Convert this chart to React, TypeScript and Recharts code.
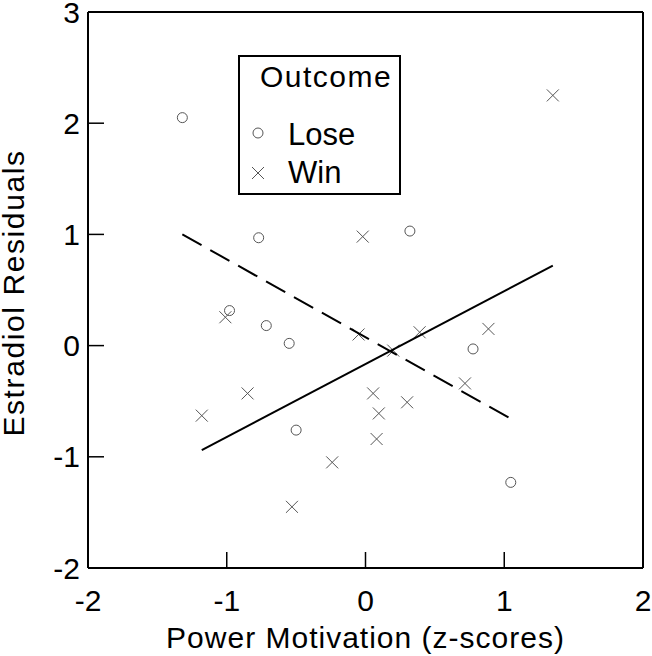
import React from "react";
import { ScatterChart, Scatter, XAxis, YAxis, Legend } from "recharts";

const loseX = [-1.32, -0.77, 0.32, -0.98, -0.715, -0.55, -0.5, 0.775, 1.047];
const loseY = [2.05, 0.97, 1.03, 0.315, 0.18, 0.02, -0.76, -0.03, -1.23];

const winX = [1.35, -0.02, -1.01, -0.05, 0.39, 0.2, -0.85, -1.18, 0.055, 0.096, 0.3, 0.08, -0.24, -0.53, 0.886, 0.717];
const winY = [2.25, 0.98, 0.255, 0.1, 0.12, -0.045, -0.43, -0.63, -0.43, -0.61, -0.51, -0.84, -1.05, -1.45, 0.15, -0.34];

// fitted lines (endpoints at each group's x range)
const winFitX = [-1.18, 1.35];
const winFitY = [-0.94, 0.72];
const loseFitX = [-1.32, 1.05];
const loseFitY = [1.0, -0.66];

const xTicks = [-2, -1, 0, 1, 2];
const yTicks = [-2, -1, 0, 1, 2, 3];

const zip = (xs: number[], ys: number[]) => xs.map((x, i) => ({ x, y: ys[i] }));

const loseData = zip(loseX, loseY);
const winData = zip(winX, winY);
const winFit = zip(winFitX, winFitY);
const loseFit = zip(loseFitX, loseFitY);

const FONT = "'Liberation Sans', Arial, Helvetica, sans-serif";
const MARK = "#555";
const TICK_LEN = 16;

const Circle = (p: any) => <circle cx={p.cx} cy={p.cy} r={5} fill="none" stroke={MARK} strokeWidth={1} />;
const Cross = (p: any) => (
  <g stroke={MARK} strokeWidth={1}>
    <line x1={p.cx - 6} y1={p.cy - 6} x2={p.cx + 6} y2={p.cy + 6} />
    <line x1={p.cx - 6} y1={p.cy + 6} x2={p.cx + 6} y2={p.cy - 6} />
  </g>
);
const Nothing = () => <g />;

// inward tick marks + labels (recharts only draws outward ticks)
const BottomTick = (p: any) => (
  <g>
    <line x1={p.x} x2={p.x} y1={p.y - 22} y2={p.y - 22 - TICK_LEN} stroke="#000" strokeWidth={1.5} />
    <text x={p.x} y={p.y} dy="0.71em" textAnchor="middle" fontSize={30} fontFamily={FONT} fill="#000">
      {p.payload.value}
    </text>
  </g>
);
const LeftTick = (p: any) => (
  <g>
    <line x1={p.x + 8} x2={p.x + 8 + TICK_LEN} y1={p.y} y2={p.y} stroke="#000" strokeWidth={1.5} />
    <text x={p.x} y={p.y} dy="0.355em" textAnchor="end" fontSize={30} fontFamily={FONT} fill="#000">
      {p.payload.value}
    </text>
  </g>
);
const TopTick = (p: any) => (
  <line x1={p.x} x2={p.x} y1={p.y} y2={p.y + TICK_LEN} stroke="#000" strokeWidth={1.5} />
);
const RightTick = (p: any) => (
  <line x1={p.x} x2={p.x - TICK_LEN} y1={p.y} y2={p.y} stroke="#000" strokeWidth={1.5} />
);

const LegendBox = () => (
  <svg width={163} height={140} style={{ display: "block" }}>
    <rect x={1} y={1} width={161} height={138} fill="#fff" stroke="#000" strokeWidth={2} />
    <text x={22} y={32} fontSize={30} fontFamily={FONT} fill="#000" letterSpacing="1.5px">Outcome</text>
    <circle cx={20} cy={78} r={5} fill="none" stroke={MARK} strokeWidth={1} />
    <text x={50} y={90} fontSize={31} fontFamily={FONT} fill="#000">Lose</text>
    <g stroke={MARK} strokeWidth={1}>
      <line x1={14} y1={112} x2={26} y2={124} />
      <line x1={14} y1={124} x2={26} y2={112} />
    </g>
    <text x={50} y={128} fontSize={31} fontFamily={FONT} fill="#000">Win</text>
  </svg>
);

const YTitle = (props: any) => {
  const vb = props.viewBox;
  const bx = 24;
  const cy = vb.y + vb.height / 2 + 3;
  return (
    <text
      x={bx}
      y={cy}
      transform={`rotate(-90 ${bx} ${cy})`}
      textAnchor="middle"
      fontSize={30}
      fontFamily={FONT}
      letterSpacing="1.6px"
      fill="#000"
    >
      Estradiol Residuals
    </text>
  );
};

const axisStyle = { stroke: "#000", strokeWidth: 2 };

export default function App() {
  return (
    <div style={{ position: "absolute", left: 0, top: 0, background: "#fff" }}>
      <ScatterChart width={652} height={656} margin={{ top: 11, right: 8, bottom: 28, left: 28 }}>
        <XAxis
          type="number"
          dataKey="x"
          domain={[-2, 2]}
          ticks={xTicks}
          height={60}
          axisLine={axisStyle}
          tickLine={false}
          tickSize={0}
          tickMargin={22}
          tick={<BottomTick />}
          label={{
            value: "Power Motivation (z-scores)",
            position: "bottom",
            offset: -1,
            style: { fontSize: 30, fontFamily: FONT, fill: "#000", letterSpacing: "1px" },
          }}
        />
        <YAxis
          type="number"
          dataKey="y"
          domain={[-2, 3]}
          ticks={yTicks}
          width={60}
          axisLine={axisStyle}
          tickLine={false}
          tickSize={0}
          tickMargin={8}
          tick={<LeftTick />}
          label={<YTitle />}
        />
        <XAxis
          xAxisId="top"
          orientation="top"
          type="number"
          domain={[-2, 2]}
          ticks={xTicks}
          height={1}
          axisLine={axisStyle}
          tickLine={false}
          tickSize={0}
          tickMargin={0}
          tick={<TopTick />}
        />
        <YAxis
          yAxisId="right"
          orientation="right"
          type="number"
          domain={[-2, 3]}
          ticks={yTicks}
          width={1}
          axisLine={axisStyle}
          tickLine={false}
          tickSize={0}
          tickMargin={0}
          tick={<RightTick />}
        />
        <Legend
          layout="horizontal"
          verticalAlign="middle"
          align="center"
          wrapperStyle={{ left: 238, top: 55, width: 163, height: 140 }}
          content={() => <LegendBox />}
        />
        <Scatter name="Lose" data={loseData} shape={Circle} isAnimationActive={false} />
        <Scatter name="Win" data={winData} shape={Cross} isAnimationActive={false} />
        <Scatter
          data={winFit}
          shape={Nothing}
          line={{ stroke: "#000", strokeWidth: 2 }}
          lineType="joint"
          legendType="none"
          isAnimationActive={false}
        />
        <Scatter
          data={loseFit}
          shape={Nothing}
          line={{ stroke: "#000", strokeWidth: 2, strokeDasharray: "22 10" }}
          lineType="joint"
          legendType="none"
          isAnimationActive={false}
        />
      </ScatterChart>
    </div>
  );
}
